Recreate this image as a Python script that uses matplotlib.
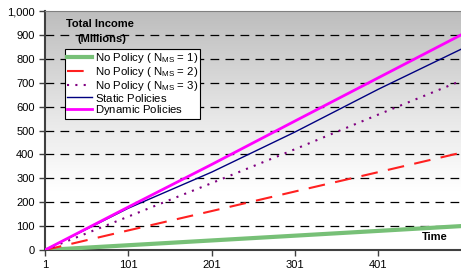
import numpy as np
import matplotlib.pyplot as plt
from matplotlib.colors import LinearSegmentedColormap

plt.rcParams['font.family'] = ['Liberation Sans', 'DejaVu Sans']
plt.rcParams['mathtext.default'] = 'regular'

# valores (tiempo vs ingreso total, millones)
t = [1, 101, 201, 301, 401, 500]
no_policy_1 = [0, 20, 40, 60, 80, 100]
no_policy_2 = [0, 82, 163, 245, 326, 407]
no_policy_3 = [0, 140, 280, 422, 567, 708]
static_pol = [0, 175, 326, 494, 673, 840]
dynamic_pol = [0, 180, 358, 540, 721, 900]

xticks = [1, 101, 201, 301, 401]
yticks = list(range(0, 1001, 100))

fig = plt.figure(figsize=(4.61, 2.75), dpi=100)
ax = fig.add_axes([0.0976, 0.0909, 0.9024, 0.869])

# fondo degradado gris -> blanco
cmap = LinearSegmentedColormap.from_list(
    'bg', [(0, '#ffffff'), (0.25, '#ffffff'), (0.55, '#e8e8e8'), (1, '#bdbdbd')])
grad = np.linspace(0, 1, 256).reshape(-1, 1)
ax.imshow(grad, aspect='auto', cmap=cmap, origin='lower',
          extent=[0, 1, 0, 1], transform=ax.transAxes, zorder=0)

for y in yticks[1:-1]:
    ax.axhline(y, color='black', lw=0.9, dashes=(7, 5), zorder=1)

# el subindice vacio iguala la altura de las filas de la leyenda
ax.plot(t, no_policy_1, color='#77c077', lw=3, label='No Policy ( N$_{MS}$ = 1)', zorder=3)
ax.plot(t, no_policy_2, color='#ff2020', lw=1.5, dashes=(8, 5), label='No Policy ( N$_{MS}$ = 2)', zorder=3)
ax.plot(t, no_policy_3, color='#800080', lw=1.5, dashes=(1, 3), label='No Policy ( N$_{MS}$ = 3)', zorder=3)
ax.plot(t, static_pol, color='#000080', lw=1, label='Static Policies$_{\\ }$', zorder=4)
ax.plot(t, dynamic_pol, color='#ff00ff', lw=2, label='Dynamic Policies$_{\\ }$', zorder=5)

ax.set_xlim(1, 500)
ax.set_ylim(0, 1000)
ax.set_xticks(xticks)
ax.set_yticks(yticks)
ax.set_yticklabels([f'{v:,}' for v in yticks])
ax.tick_params(labelsize=8, direction='out', length=4, width=1, color='#404040')

ax.spines['right'].set_visible(False)
ax.spines['top'].set_color('#808080')
ax.spines['left'].set_color('#404040')
ax.spines['bottom'].set_color('#404040')
ax.spines['left'].set_linewidth(1.5)
ax.spines['bottom'].set_linewidth(1.5)

ax.text(0.05, 0.965, 'Total Income', transform=ax.transAxes,
        fontsize=8, fontweight='bold', va='top', ha='left', zorder=6)
ax.text(0.138, 0.905, '(Millions)', transform=ax.transAxes,
        fontsize=8, fontweight='bold', va='top', ha='center', zorder=6)
ax.text(0.905, 0.055, 'Time', transform=ax.transAxes, fontsize=8,
        fontweight='bold', va='center', ha='left', zorder=6)

leg = ax.legend(loc='upper left', bbox_to_anchor=(0.048, 0.84), fontsize=8.2,
                frameon=True, fancybox=False, edgecolor='black', framealpha=1,
                borderpad=0.15, labelspacing=0.0, handlelength=2.2,
                handletextpad=0.3, borderaxespad=0)
leg.get_frame().set_linewidth(0.8)
leg.set_zorder(7)

fig.savefig('out.png', dpi=100)
